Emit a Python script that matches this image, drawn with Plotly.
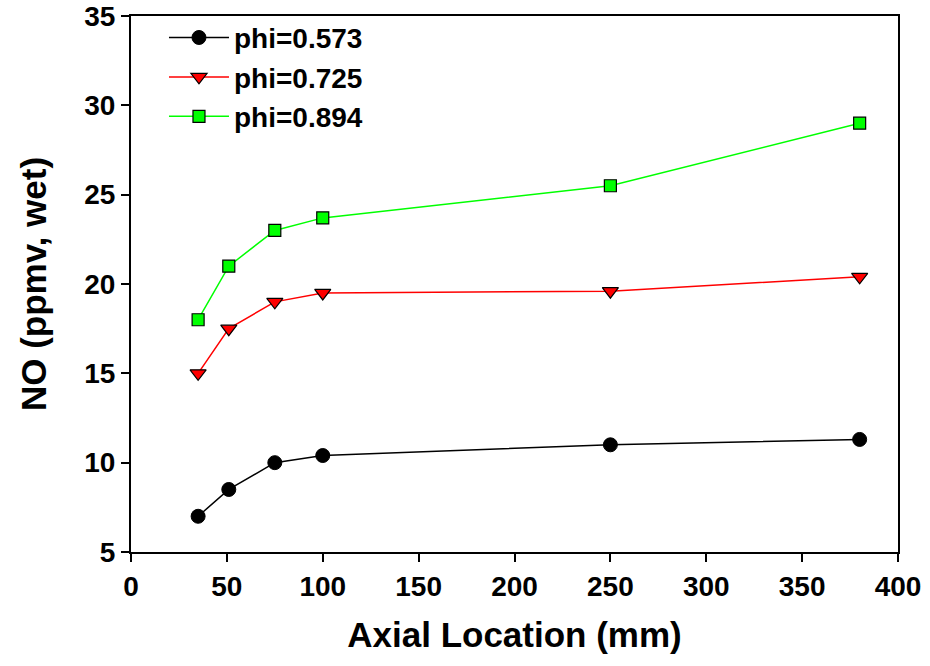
import plotly.graph_objects as go

x_mm = [35, 51, 75, 100, 250, 380]
phi_0573 = [7.0, 8.5, 10.0, 10.4, 11.0, 11.3]
phi_0725 = [15.0, 17.5, 19.0, 19.5, 19.6, 20.4]
phi_0894 = [18.0, 21.0, 23.0, 23.7, 25.5, 29.0]
names = ["phi=0.573", "phi=0.725", "phi=0.894"]

fig = go.Figure()
fig.add_trace(go.Scatter(x=x_mm, y=phi_0573, name=names[0], mode="lines+markers",
                         line=dict(color="black", width=1.5),
                         marker=dict(symbol="circle", size=14, color="black",
                                     line=dict(color="black", width=1))))
fig.add_trace(go.Scatter(x=x_mm, y=phi_0725, name=names[1], mode="lines+markers",
                         line=dict(color="#ff0000", width=1.5),
                         marker=dict(symbol="triangle-down", size=14, color="#ff0000",
                                     line=dict(color="black", width=1.2))))
fig.add_trace(go.Scatter(x=x_mm, y=phi_0894, name=names[2], mode="lines+markers",
                         line=dict(color="#00ff00", width=1.5),
                         marker=dict(symbol="square", size=12, color="#00ff00",
                                     line=dict(color="black", width=1.2))))

font_family = "Liberation Sans, Arial, sans-serif"
fig.update_layout(
    width=930, height=666,
    margin=dict(l=131, r=32, t=16, b=114, autoexpand=False),
    paper_bgcolor="white", plot_bgcolor="white",
    font=dict(family=font_family, color="black"),
    showlegend=True,
    legend=dict(x=0.043, y=1.006, xanchor="left", yanchor="top",
                bgcolor="rgba(0,0,0,0)", font=dict(size=28, family=font_family, weight="bold"),
                itemwidth=60, tracegroupgap=0),
    xaxis=dict(range=[0, 400], tickvals=[0, 50, 100, 150, 200, 250, 300, 350, 400],
               showgrid=False, zeroline=False, showline=True, linecolor="black", linewidth=2,
               mirror=True, ticks="outside", ticklen=8, tickwidth=1.5, tickcolor="black",
               automargin=False,
               tickfont=dict(size=28, family=font_family, weight="bold"),
               title=dict(text="Axial Location (mm)", standoff=22,
                          font=dict(size=35, family=font_family, weight="bold"))),
    yaxis=dict(range=[5, 35], tickvals=[5, 10, 15, 20, 25, 30, 35],
               showgrid=False, zeroline=False, showline=True, linecolor="black", linewidth=2,
               mirror=True, ticks="outside", ticklen=8, tickwidth=1.5, tickcolor="black",
               automargin=False,
               tickfont=dict(size=28, family=font_family, weight="bold"),
               title=dict(text="NO (ppmv, wet)", standoff=27,
                          font=dict(size=35, family=font_family, weight="bold"))),
)

fig.write_html("out.html")
